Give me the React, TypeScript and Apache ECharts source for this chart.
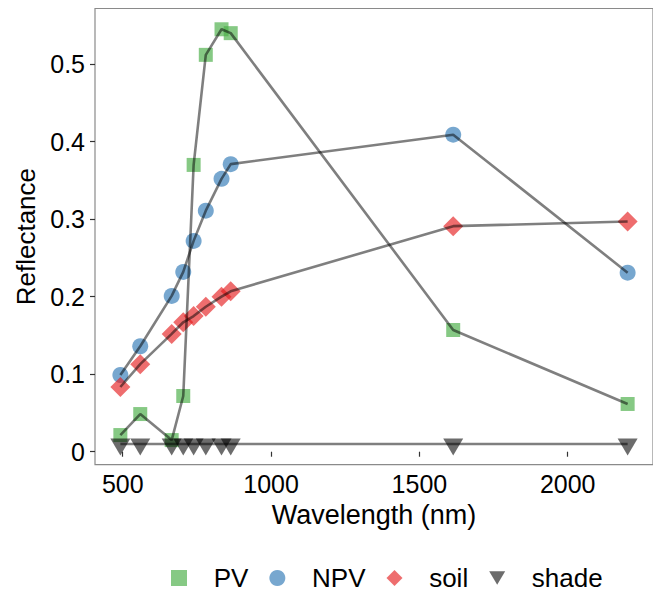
import React, { useEffect, useRef } from "react";
import * as echarts from "echarts";

const wavelengths = [492, 559, 665, 704, 739, 780, 833, 864, 1614, 2202];
const pvValues = [0.0215, 0.0486, 0.015, 0.0719, 0.37, 0.512, 0.545, 0.54, 0.157, 0.0616];
const npvValues = [0.099, 0.136, 0.201, 0.232, 0.272, 0.311, 0.352, 0.371, 0.409, 0.231];
const soilValues = [0.0835, 0.113, 0.152, 0.167, 0.175, 0.187, 0.2, 0.207, 0.291, 0.297];
const shadeValues = [0.01, 0.01, 0.01, 0.01, 0.01, 0.01, 0.01, 0.01, 0.01, 0.01];
const xTicks = [500, 1000, 1500, 2000];
const yTicks = [0, 0.1, 0.2, 0.3, 0.4, 0.5];

const groups = [
  { name: "PV", values: pvValues, color: "rgba(77,175,74,0.85)", symbol: "rect", size: 14, offset: [0, 0] },
  { name: "NPV", values: npvValues, color: "rgba(55,126,184,0.85)", symbol: "circle", size: 16, offset: [0, 0] },
  { name: "soil", values: soilValues, color: "rgba(228,26,28,0.8)", symbol: "diamond", size: 20, offset: [0, 0] },
  { name: "shade", values: shadeValues, color: "rgba(0,0,0,0.72)", symbol: "path://M0,0L20,0L10,17Z", size: [20, 17], offset: [0, 3] },
];

const FONT = "Liberation Sans, Arial, sans-serif";

export default function App() {
  const ref = useRef<HTMLDivElement>(null);
  useEffect(() => {
    if (!ref.current) return;
    const chart = echarts.init(ref.current, null, { renderer: "svg" });
    const pairs = (vals: number[]) => wavelengths.map((w, i) => [w, vals[i]]);
    const series: any[] = [];
    groups.forEach((g) => {
      series.push({
        type: "scatter",
        name: g.name,
        data: pairs(g.values),
        symbol: g.symbol,
        symbolSize: g.size,
        symbolOffset: g.offset,
        itemStyle: { color: g.color },
        z: 2,
      });
    });
    groups.forEach((g) => {
      series.push({
        type: "line",
        name: g.name + "-line",
        data: pairs(g.values),
        symbol: "none",
        lineStyle: { color: "rgba(0,0,0,0.5)", width: 2.6 },
        z: 3,
      });
    });
    chart.setOption({
      animation: false,
      backgroundColor: "#ffffff",
      grid: {
        left: 95,
        right: -3,
        top: 8.5,
        bottom: 127.3,
        show: true,
        borderColor: "#8a8a8a",
        borderWidth: 1.2,
        backgroundColor: "transparent",
      },
      xAxis: {
        type: "value",
        min: 406.5,
        max: 2287.5,
        name: "Wavelength (nm)",
        nameLocation: "middle",
        nameGap: 34,
        nameTextStyle: { fontFamily: FONT, fontSize: 27, color: "#000" },
        axisLine: { show: false },
        splitLine: { show: false },
        axisTick: { show: true, length: 5, customValues: xTicks, lineStyle: { color: "#333", width: 1.2 } },
        axisLabel: {
          customValues: xTicks,
          margin: 7,
          fontFamily: FONT,
          fontSize: 25,
          color: "#000",
          formatter: (v: number) => String(Math.round(v)),
        },
      },
      yAxis: {
        type: "value",
        min: -0.01675,
        max: 0.5718,
        name: "Reflectance",
        nameLocation: "middle",
        nameGap: 54,
        nameTextStyle: { fontFamily: FONT, fontSize: 26, color: "#000" },
        axisLine: { show: false },
        splitLine: { show: false },
        axisTick: { show: true, length: 5, customValues: yTicks, lineStyle: { color: "#333", width: 1.2 } },
        axisLabel: {
          customValues: yTicks,
          margin: 10,
          fontFamily: FONT,
          fontSize: 25,
          color: "#000",
          formatter: (v: number) => (Math.abs(v) < 1e-9 ? "0" : String(Math.round(v * 10) / 10)),
        },
      },
      legend: {
        left: 171,
        top: 565,
        padding: 0,
        orient: "horizontal",
        itemWidth: 16,
        itemHeight: 16,
        itemGap: 21,
        data: [
          { name: "PV", icon: "rect" },
          { name: "NPV", icon: "circle" },
          { name: "soil", icon: "diamond" },
          { name: "shade", icon: "path://M0,0L20,0L10,17Z" },
        ],
        formatter: (name: string) => "\u00A0\u00A0\u00A0" + name,
        textStyle: {
          fontFamily: FONT,
          fontSize: 26,
          color: "#000",
        },
      },
      series,
    });
    return () => chart.dispose();
  }, []);
  return (
    <div
      ref={ref}
      style={{ position: "fixed", left: 0, top: 0, width: 653, height: 592, background: "#fff" }}
    />
  );
}
